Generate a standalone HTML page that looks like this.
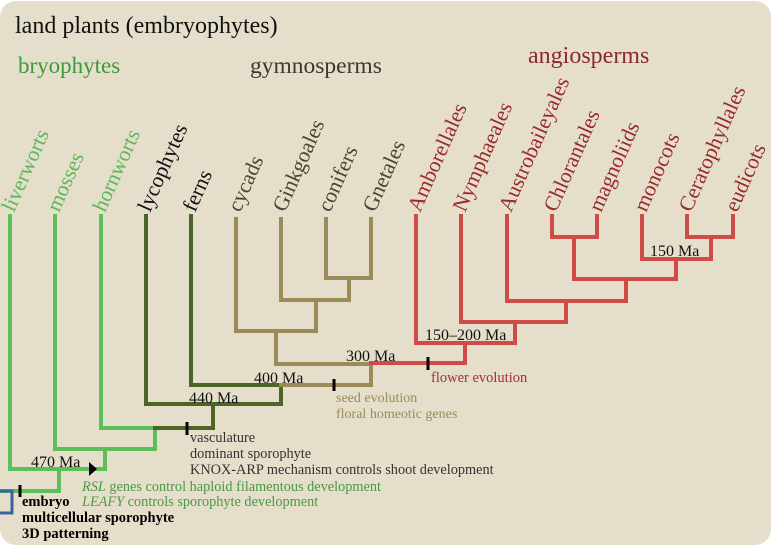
<!DOCTYPE html>
<html><head><meta charset="utf-8"><style>
html,body{margin:0;padding:0;background:#fff;}
svg{display:block;}
text{font-family:"Liberation Serif",serif;}
</style></head><body>
<svg width="772" height="546" viewBox="0 0 772 546" xmlns="http://www.w3.org/2000/svg">
<rect x="0" y="0" width="772" height="546" fill="#fff"/>
<rect x="0" y="1" width="771" height="544" rx="16" fill="#e5decb"/>
<text x="15" y="33" font-size="24" fill="#111">land plants (embryophytes)</text>
<text x="18" y="73" font-size="23" fill="#3d9a3a">bryophytes</text>
<text x="250" y="73" font-size="23.5" fill="#3a3a2a">gymnosperms</text>
<text x="528" y="63" font-size="24" fill="#8b2a2a">angiosperms</text>

<g font-size="21.5">
<g fill="#5cb85a">
<text transform="translate(14,213) rotate(-66)">liverworts</text>
<text transform="translate(59,213) rotate(-66)">mosses</text>
<text transform="translate(105,213) rotate(-66)">hornworts</text>
</g>
<g fill="#111">
<text transform="translate(150,213) rotate(-66)">lycophytes</text>
<text transform="translate(195,213) rotate(-66)">ferns</text>
</g>
<g fill="#4a4530">
<text transform="translate(240,213) rotate(-66)">cycads</text>
<text transform="translate(285,213) rotate(-66)">Ginkgoales</text>
<text transform="translate(330,213) rotate(-66)">conifers</text>
<text transform="translate(375,213) rotate(-66)">Gnetales</text>
</g>
<g fill="#9a2a2a">
<text transform="translate(420,213) rotate(-66)">Amborellales</text>
<text transform="translate(465,213) rotate(-66)">Nymphaeales</text>
<text transform="translate(511,213) rotate(-66)">Austrobaileyales</text>
<text transform="translate(556,213) rotate(-66)">Chlorantales</text>
<text transform="translate(601,213) rotate(-66)">magnoliids</text>
<text transform="translate(646,213) rotate(-66)">monocots</text>
<text transform="translate(691,213) rotate(-66)">Ceratophyllales</text>
<text transform="translate(737,213) rotate(-66)">eudicots</text>
</g>
</g>

<g fill="none" stroke-width="4" stroke-linecap="square">
<g stroke="#5cbf58">
<path d="M10 216 V469 H105 V449"/>
<path d="M55 216 V449 H155 V428"/>
<path d="M101 216 V428 H155"/>
<path d="M59 469 V491 H0"/>
</g>
<g stroke="#4a6526">
<path d="M146 216 V404 H281 V385"/>
<path d="M191 216 V385 H281"/>
<path d="M213 404 V428 H155"/>
</g>
<g stroke="#9a8b58">
<path d="M236 219 V331 H316 V300"/>
<path d="M281 219 V300 H349 V278"/>
<path d="M326 219 V278 H371 V219"/>
<path d="M276 331 V364 H371 V385 H281"/>
</g>
<g stroke="#cf4b48">
<path d="M371 363 H465 V343"/>
<path d="M416 216 V343 H515 V322"/>
<path d="M461 216 V322 H566 V301"/>
<path d="M507 216 V301 H626 V279"/>
<path d="M574 279 H676 V259"/>
<path d="M574 279 V237"/>
<path d="M552 216 V237 H597 V216"/>
<path d="M642 216 V259 H711 V237"/>
<path d="M687 216 V237 H733 V216"/>
</g>
<path d="M0 491 H12 V513 H0" stroke="#3a64a0" stroke-width="3"/>
</g>
<g stroke="#000" stroke-width="3">
<line x1="428" y1="357" x2="428" y2="370"/>
<line x1="334" y1="379" x2="334" y2="391"/>
<line x1="187" y1="422" x2="187" y2="435"/>
<line x1="20" y1="485" x2="20" y2="497"/>
</g>
<polygon points="89,462 97,469 89,476" fill="#000"/>

<g font-size="16" fill="#111">
<text x="346" y="361">300 Ma</text>
<text x="254" y="383">400 Ma</text>
<text x="189" y="403">440 Ma</text>
<text x="31" y="467">470 Ma</text>
<text x="425" y="340">150–200 Ma</text>
<text x="650" y="256">150 Ma</text>
</g>
<text x="431" y="382" font-size="14.5" fill="#a33030">flower evolution</text>
<g font-size="14" fill="#9a8b58">
<text x="336" y="402">seed evolution</text>
<text x="336" y="418">floral homeotic genes</text>
</g>
<g font-size="14.3" fill="#333">
<text x="190" y="442">vasculature</text>
<text x="190" y="458">dominant sporophyte</text>
<text x="190" y="474">KNOX-ARP mechanism controls shoot development</text>
</g>
<g font-size="14.3" fill="#4a9a45">
<text x="82" y="491"><tspan font-style="italic">RSL</tspan> genes control haploid filamentous development</text>
<text x="82" y="506"><tspan font-style="italic">LEAFY</tspan> controls sporophyte development</text>
</g>
<g font-size="14.5" fill="#000" font-weight="bold">
<text x="22" y="506">embryo</text>
<text x="22" y="522">multicellular sporophyte</text>
<text x="22" y="538">3D patterning</text>
</g>
</svg>
</body></html>
